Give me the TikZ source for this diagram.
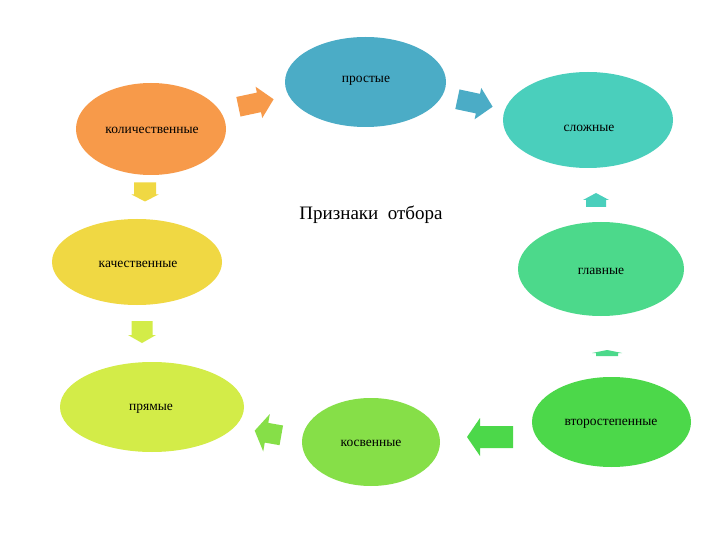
\documentclass[tikz,border=0pt]{standalone}
\usepackage{fontspec}
\setmainfont{Liberation Serif}
\usetikzlibrary{shapes.geometric}
\definecolor{cProst}{HTML}{4BACC6}
\definecolor{cSlozh}{HTML}{4ACFBC}
\definecolor{cKol}{HTML}{F79A4A}
\definecolor{cKach}{HTML}{F0D843}
\definecolor{cGlav}{HTML}{4CD98B}
\definecolor{cPryam}{HTML}{D3EC48}
\definecolor{cKosv}{HTML}{86DF48}
\definecolor{cVtor}{HTML}{4CD84A}
\tikzset{
  oval/.style={ellipse, inner sep=0pt, draw=none},
  lbl/.style={inner sep=0pt, font=\fontsize{13.5}{15}\selectfont},
}
% center x, center y, angle, length, body width, head width, head length, colour
\newcommand\blockarr[8]{%
  \begin{scope}[shift={(#1,#2)}, rotate=#3]
    \fill[#8] (-#4/2,-#5/2) -- (#4/2-#7,-#5/2) -- (#4/2-#7,-#6/2) -- (#4/2,0)
      -- (#4/2-#7,#6/2) -- (#4/2-#7,#5/2) -- (-#4/2,#5/2) -- cycle;
  \end{scope}}
\begin{document}
\begin{tikzpicture}[x=1pt,y=-1pt]
\useasboundingbox (0,0) rectangle (720,540);
\fill[white] (0,0) rectangle (720,540);

\node[oval, fill=cProst, minimum width=161pt, minimum height=90pt] (prost) at (365.5,82) {};
\node[oval, fill=cSlozh, minimum width=170pt, minimum height=96pt] (slozh) at (588,120) {};
\node[oval, fill=cKol, minimum width=150pt, minimum height=92pt] (kol) at (151,129) {};
\node[oval, fill=cKach, minimum width=170pt, minimum height=86pt] (kach) at (137,262) {};
\node[oval, fill=cGlav, minimum width=166pt, minimum height=94pt] (glav) at (601,269) {};
\node[oval, fill=cPryam, minimum width=184pt, minimum height=90pt] (pryam) at (152,407) {};
\node[oval, fill=cKosv, minimum width=138pt, minimum height=88pt] (kosv) at (371,442) {};
\node[oval, fill=cVtor, minimum width=159pt, minimum height=90pt] (vtor) at (611.5,422) {};

\node[lbl] (tProst) at (366,81) {простые};
\node[lbl] (tSlozh) at (589,128) {сложные};
\node[lbl] (tKol) at (152,130) {количественные};
\node[lbl] (tKach) at (138,264) {качественные};
\node[lbl] (tGlav) at (601,271) {главные};
\node[lbl] (tPryam) at (151,409) {прямые};
\node[lbl] (tKosv) at (371,443) {косвенные};
\node[lbl] (tVtor) at (611,424) {второстепенные};

\node[font=\fontsize{19}{21}\selectfont] (title) at (371,215) {Признаки\ \ отбора};

\blockarr{256}{103}{12}{36}{20}{32}{15}{cKol}
\blockarr{475}{103}{-12}{36}{20}{32}{15}{cProst}
\blockarr{145}{192}{-90}{19}{22}{27}{7}{cKach}
\blockarr{142}{332}{-90}{22}{21}{28}{8}{cPryam}
\blockarr{596}{200}{90}{14}{20}{26}{7}{cSlozh}
\blockarr{607}{353}{90}{6}{22}{30}{3}{cGlav}
\blockarr{490}{437}{180}{46}{22}{38}{13}{cVtor}
\blockarr{268}{433}{170}{27}{20}{38}{12}{cKosv}
\end{tikzpicture}
\end{document}
